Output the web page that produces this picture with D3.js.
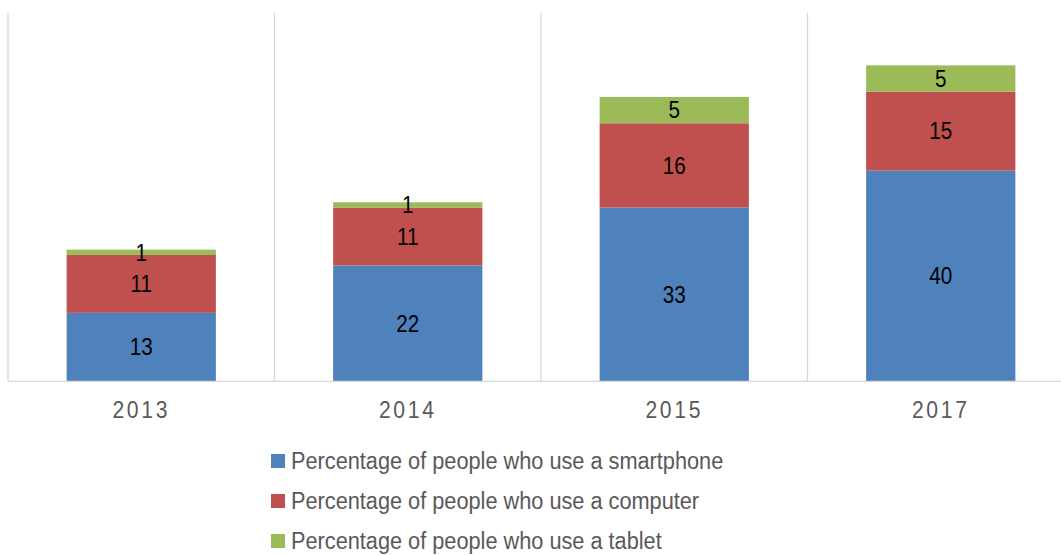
<!DOCTYPE html>
<html>
<head>
<meta charset="utf-8">
<script src="https://cdn.jsdelivr.net/npm/d3@7/dist/d3.min.js"></script>
<style>
  html, body { margin: 0; padding: 0; background: #fff; }
  svg { display: block; }
  text { font-family: "Liberation Sans", Arial, sans-serif; }
</style>
</head>
<body>
<svg id="chart" width="1061" height="555"></svg>
<script>
// Survey years and device-usage shares (percent)
const years = ["2013", "2014", "2015", "2017"];
const smartphone = [13, 22, 33, 40];
const computer = [11, 11, 16, 15];
const tablet = [1, 1, 5, 5];
const seriesNames = [
  "Percentage of people who use a smartphone",
  "Percentage of people who use a computer",
  "Percentage of people who use a tablet"
];
const seriesColors = ["#4f81bd", "#c0504d", "#9bbb59"];
const yDomain = [0, 70];

const svg = d3.select("#chart");
const plot = { left: 8, right: 1074, top: 12.7, bottom: 381.3 };

const x = d3.scaleBand()
  .domain(years)
  .range([plot.left, plot.right])
  .paddingInner(0.44)
  .paddingOuter(0.22);

const y = d3.scaleLinear().domain(yDomain).range([plot.bottom, plot.top]);

const rows = years.map((yr, i) => ({ year: yr, s0: smartphone[i], s1: computer[i], s2: tablet[i] }));
const stacked = d3.stack().keys(["s0", "s1", "s2"])(rows);

// category separators
const step = x.step();
const bounds = d3.range(years.length).map(i => plot.left + i * step);
svg.append("g").selectAll("line").data(bounds).join("line")
  .attr("x1", d => d).attr("x2", d => d)
  .attr("y1", plot.top).attr("y2", plot.bottom)
  .attr("stroke", "#d9d9d9").attr("stroke-width", 1.3);

// stacked bars
const layers = svg.append("g").selectAll("g").data(stacked).join("g")
  .attr("fill", (d, i) => seriesColors[i]);
layers.selectAll("rect").data(d => d).join("rect")
  .attr("x", d => x(d.data.year))
  .attr("width", x.bandwidth())
  .attr("y", d => y(d[1]))
  .attr("height", d => y(d[0]) - y(d[1]));

// value labels centred in each segment (slightly condensed)
const labels = svg.append("g").selectAll("g").data(stacked).join("g");
labels.selectAll("text").data(d => d.map(p => ({ p, key: d.key }))).join("text")
  .attr("transform", d => `translate(${x(d.p.data.year) + x.bandwidth() / 2},${(y(d.p[0]) + y(d.p[1])) / 2}) scale(0.9,1)`)
  .attr("dy", "0.36em")
  .attr("text-anchor", "middle")
  .attr("font-size", 23)
  .attr("fill", "#000")
  .text(d => d.p.data[d.key]);

// x axis
svg.append("line")
  .attr("x1", plot.left).attr("x2", plot.right)
  .attr("y1", plot.bottom).attr("y2", plot.bottom)
  .attr("stroke", "#d9d9d9").attr("stroke-width", 1.3);
const xAxis = svg.append("g")
  .attr("transform", `translate(0,${plot.bottom})`)
  .call(d3.axisBottom(x).tickSize(0).tickPadding(0));
xAxis.select(".domain").remove();
xAxis.selectAll("text")
  .attr("y", null)
  .attr("dy", null)
  .attr("transform", "translate(0,29) scale(0.88,1)")
  .attr("dominant-baseline", "central")
  .attr("font-size", 24)
  .attr("letter-spacing", "3px")
  .attr("fill", "#595959")
  .style("font-family", '"Liberation Sans", Arial, sans-serif');

// legend
const legend = svg.append("g").attr("transform", "translate(271,461)");
const item = legend.selectAll("g").data(seriesNames).join("g")
  .attr("transform", (d, i) => `translate(0,${i * 40})`);
item.append("rect")
  .attr("x", 0).attr("y", -7).attr("width", 14).attr("height", 14)
  .attr("fill", (d, i) => seriesColors[i]);
item.append("text")
  .attr("transform", "translate(20,0) scale(0.945,1)")
  .attr("dy", "0.36em")
  .attr("font-size", 23)
  .attr("fill", "#595959")
  .text(d => d);
</script>
</body>
</html>
